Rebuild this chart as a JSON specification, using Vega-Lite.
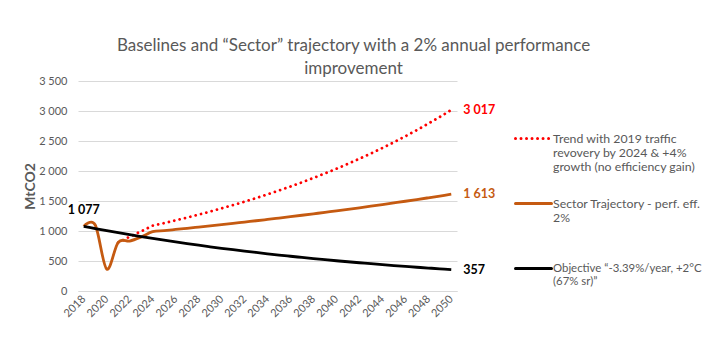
{
  "$schema": "https://vega.github.io/schema/vega-lite/v6.json",
  "autosize": {"type": "none"},
  "width": 379,
  "height": 210,
  "padding": {"left": 78, "top": 81, "right": 254, "bottom": 58},
  "background": "white",
  "config": {
    "font": "Lato",
    "view": {"stroke": null},
    "axis": {"labelColor": "#595959", "labelFont": "Lato", "titleFont": "Lato"}
  },
  "title": {
    "text": ["Baselines and “Sector” trajectory with a 2% annual performance", "improvement"],
    "fontSize": 17,
    "fontWeight": "normal",
    "color": "#595959",
    "anchor": "middle",
    "frame": "group",
    "dx": 86,
    "offset": -3,
    "lineHeight": 23
  },
  "datasets": {
    "series": [
      {"year": 2021, "series": "Trend", "value": 805},
      {"year": 2022, "series": "Trend", "value": 905},
      {"year": 2023, "series": "Trend", "value": 995},
      {"year": 2024, "series": "Trend", "value": 1088},
      {"year": 2025, "series": "Trend", "value": 1131.5},
      {"year": 2026, "series": "Trend", "value": 1176.8},
      {"year": 2027, "series": "Trend", "value": 1223.9},
      {"year": 2028, "series": "Trend", "value": 1272.8},
      {"year": 2029, "series": "Trend", "value": 1323.7},
      {"year": 2030, "series": "Trend", "value": 1376.7},
      {"year": 2031, "series": "Trend", "value": 1431.7},
      {"year": 2032, "series": "Trend", "value": 1489.0},
      {"year": 2033, "series": "Trend", "value": 1548.6},
      {"year": 2034, "series": "Trend", "value": 1610.5},
      {"year": 2035, "series": "Trend", "value": 1674.9},
      {"year": 2036, "series": "Trend", "value": 1741.9},
      {"year": 2037, "series": "Trend", "value": 1811.6},
      {"year": 2038, "series": "Trend", "value": 1884.1},
      {"year": 2039, "series": "Trend", "value": 1959.4},
      {"year": 2040, "series": "Trend", "value": 2037.8},
      {"year": 2041, "series": "Trend", "value": 2119.3},
      {"year": 2042, "series": "Trend", "value": 2204.1},
      {"year": 2043, "series": "Trend", "value": 2292.3},
      {"year": 2044, "series": "Trend", "value": 2384.0},
      {"year": 2045, "series": "Trend", "value": 2479.3},
      {"year": 2046, "series": "Trend", "value": 2578.5},
      {"year": 2047, "series": "Trend", "value": 2681.6},
      {"year": 2048, "series": "Trend", "value": 2788.9},
      {"year": 2049, "series": "Trend", "value": 2900.5},
      {"year": 2050, "series": "Trend", "value": 3017},
      {"year": 2018, "series": "Sector", "value": 1077},
      {"year": 2019, "series": "Sector", "value": 1100},
      {"year": 2020, "series": "Sector", "value": 365},
      {"year": 2021, "series": "Sector", "value": 811},
      {"year": 2022, "series": "Sector", "value": 832},
      {"year": 2023, "series": "Sector", "value": 900},
      {"year": 2024, "series": "Sector", "value": 988},
      {"year": 2025, "series": "Sector", "value": 1006.8},
      {"year": 2026, "series": "Sector", "value": 1026.0},
      {"year": 2027, "series": "Sector", "value": 1045.5},
      {"year": 2028, "series": "Sector", "value": 1065.4},
      {"year": 2029, "series": "Sector", "value": 1085.7},
      {"year": 2030, "series": "Sector", "value": 1106.3},
      {"year": 2031, "series": "Sector", "value": 1127.4},
      {"year": 2032, "series": "Sector", "value": 1148.8},
      {"year": 2033, "series": "Sector", "value": 1170.7},
      {"year": 2034, "series": "Sector", "value": 1193.0},
      {"year": 2035, "series": "Sector", "value": 1215.7},
      {"year": 2036, "series": "Sector", "value": 1238.8},
      {"year": 2037, "series": "Sector", "value": 1262.4},
      {"year": 2038, "series": "Sector", "value": 1286.4},
      {"year": 2039, "series": "Sector", "value": 1310.9},
      {"year": 2040, "series": "Sector", "value": 1335.8},
      {"year": 2041, "series": "Sector", "value": 1361.2},
      {"year": 2042, "series": "Sector", "value": 1387.1},
      {"year": 2043, "series": "Sector", "value": 1413.5},
      {"year": 2044, "series": "Sector", "value": 1440.4},
      {"year": 2045, "series": "Sector", "value": 1467.8},
      {"year": 2046, "series": "Sector", "value": 1495.7},
      {"year": 2047, "series": "Sector", "value": 1524.2},
      {"year": 2048, "series": "Sector", "value": 1553.2},
      {"year": 2049, "series": "Sector", "value": 1582.7},
      {"year": 2050, "series": "Sector", "value": 1613},
      {"year": 2018, "series": "Objective", "value": 1077},
      {"year": 2019, "series": "Objective", "value": 1040.5},
      {"year": 2020, "series": "Objective", "value": 1005.2},
      {"year": 2021, "series": "Objective", "value": 971.1},
      {"year": 2022, "series": "Objective", "value": 938.2},
      {"year": 2023, "series": "Objective", "value": 906.4},
      {"year": 2024, "series": "Objective", "value": 875.7},
      {"year": 2025, "series": "Objective", "value": 846.0},
      {"year": 2026, "series": "Objective", "value": 817.3},
      {"year": 2027, "series": "Objective", "value": 789.6},
      {"year": 2028, "series": "Objective", "value": 762.8},
      {"year": 2029, "series": "Objective", "value": 737.0},
      {"year": 2030, "series": "Objective", "value": 712.0},
      {"year": 2031, "series": "Objective", "value": 687.8},
      {"year": 2032, "series": "Objective", "value": 664.5},
      {"year": 2033, "series": "Objective", "value": 642.0},
      {"year": 2034, "series": "Objective", "value": 620.3},
      {"year": 2035, "series": "Objective", "value": 599.2},
      {"year": 2036, "series": "Objective", "value": 578.9},
      {"year": 2037, "series": "Objective", "value": 559.3},
      {"year": 2038, "series": "Objective", "value": 540.3},
      {"year": 2039, "series": "Objective", "value": 522.0},
      {"year": 2040, "series": "Objective", "value": 504.3},
      {"year": 2041, "series": "Objective", "value": 487.2},
      {"year": 2042, "series": "Objective", "value": 470.7},
      {"year": 2043, "series": "Objective", "value": 454.7},
      {"year": 2044, "series": "Objective", "value": 439.3},
      {"year": 2045, "series": "Objective", "value": 424.4},
      {"year": 2046, "series": "Objective", "value": 410.0},
      {"year": 2047, "series": "Objective", "value": 396.1},
      {"year": 2048, "series": "Objective", "value": 382.7},
      {"year": 2049, "series": "Objective", "value": 369.7},
      {"year": 2050, "series": "Objective", "value": 357}
    ],
    "labels": [
      {"year": 2018, "value": 1077, "series": "Objective", "text": "1 077", "pos": "top"},
      {"year": 2050, "value": 3017, "series": "Trend", "text": "3 017", "pos": "right"},
      {"year": 2050, "value": 1613, "series": "Sector", "text": "1 613", "pos": "right"},
      {"year": 2050, "value": 357, "series": "Objective", "text": "357", "pos": "right"}
    ]
  },
  "encoding": {
    "x": {
      "field": "year",
      "type": "quantitative",
      "scale": {"domain": [2017.5, 2050.5], "nice": false, "zero": false},
      "axis": {
        "title": null,
        "values": [2018, 2020, 2022, 2024, 2026, 2028, 2030, 2032, 2034, 2036, 2038, 2040, 2042, 2044, 2046, 2048, 2050],
        "format": "d",
        "labelAngle": -45,
        "labelAlign": "right",
        "labelBaseline": "middle",
        "labelFontSize": 11,
        "labelPadding": 6,
        "ticks": false,
        "grid": false,
        "domainColor": "#D9D9D9",
        "labelOverlap": false
      }
    },
    "y": {
      "field": "value",
      "type": "quantitative",
      "scale": {"domain": [0, 3500], "nice": false},
      "axis": {
        "title": "MtCO2",
        "titleFontSize": 14,
        "titleFontWeight": "bold",
        "titleColor": "#595959",
        "titlePadding": 1,
        "values": [0, 500, 1000, 1500, 2000, 2500, 3000, 3500],
        "labelExpr": "replace(format(datum.value, ','), ',', ' ')",
        "labelFontSize": 11,
        "labelPadding": 11,
        "ticks": false,
        "domain": false,
        "gridColor": "#D9D9D9",
        "gridWidth": 1
      }
    }
  },
  "layer": [
    {
      "data": {"name": "series"},
      "mark": {"type": "line", "strokeWidth": 2.8, "strokeCap": "round", "opacity": 0},
      "encoding": {
        "color": {
          "field": "series", "type": "nominal",
          "scale": {"domain": ["Trend", "Sector", "Objective"], "range": ["#FF0000", "#C55A11", "#000000"]},
          "legend": {
            "orient": "none",
            "legendX": 436,
            "legendY": 38,
            "title": null,
            "symbolType": "stroke",
            "symbolSize": 1296,
            "symbolStrokeWidth": 3,
            "symbolOpacity": 1,
            "labelFontSize": 12.3,
            "labelColor": "#595959",
            "labelLimit": 250,
            "labelOffset": 0,
            "rowPadding": 10,
            "labelExpr": "datum.label === 'Trend' ? ['Trend with 2019 traffic', 'revovery by 2024 & +4%', 'growth (no efficiency gain)'] : datum.label === 'Sector' ? ['Sector Trajectory  - perf. eff.', '2%', ''] : ['Objective “-3.39%/year, +2°C', '(67% sr)”', '']",
            "encode": {
              "symbols": {"update": {"strokeCap": {"value": "round"}}},
              "labels": {"update": {"fontSize": {"signal": "datum.value === 'Objective' ? 11.4 : 12.3"}}}
            }
          }
        },
        "strokeDash": {
          "field": "series", "type": "nominal",
          "scale": {"domain": ["Trend", "Sector", "Objective"], "range": [[0.01, 5.5], [1, 0], [1, 0]]}
        }
      }
    },
    {
      "data": {"name": "series"},
      "transform": [{"filter": "datum.series === 'Trend'"}],
      "mark": {"type": "line", "strokeWidth": 2.8, "strokeCap": "round", "strokeDash": [0.01, 5.5]},
      "encoding": {
        "color": {"field": "series", "type": "nominal"}
      }
    },
    {
      "data": {"name": "series"},
      "transform": [{"filter": "datum.series !== 'Trend'"}],
      "mark": {"type": "line", "strokeWidth": 2.8, "interpolate": "cardinal"},
      "encoding": {
        "color": {"field": "series", "type": "nominal"}
      }
    },
    {
      "data": {"name": "labels"},
      "transform": [{"filter": "datum.pos === 'right'"}],
      "mark": {"type": "text", "align": "left", "baseline": "middle", "dx": 12, "fontWeight": "bold", "fontSize": 12.5},
      "encoding": {
        "text": {"field": "text"},
        "color": {"field": "series", "type": "nominal"}
      }
    },
    {
      "data": {"name": "labels"},
      "transform": [{"filter": "datum.pos === 'top'"}],
      "mark": {"type": "text", "align": "center", "baseline": "middle", "dy": -16, "fontWeight": "bold", "fontSize": 12.5},
      "encoding": {
        "text": {"field": "text"},
        "color": {"field": "series", "type": "nominal"}
      }
    }
  ]
}
